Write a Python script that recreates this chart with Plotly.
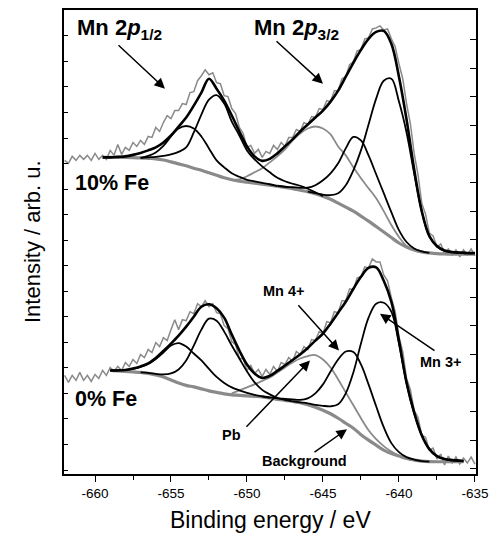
import plotly.graph_objects as go

# ---------------- data (binding energy in eV, intensity in arb. units) ----------------
E_RAW = [-662.0, -661.75, -661.5, -661.25, -661.0, -660.75, -660.5, -660.25, -660.0, -659.75,
         -659.5, -659.25, -659.0, -658.75, -658.5, -658.25, -658.0, -657.75, -657.5, -657.25,
         -657.0, -656.75, -656.5, -656.25, -656.0, -655.75, -655.5, -655.25, -655.0, -654.75,
         -654.5, -654.25, -654.0, -653.75, -653.5, -653.25, -653.0, -652.75, -652.5, -652.25,
         -652.0, -651.75, -651.5, -651.25, -651.0, -650.75, -650.5, -650.25, -650.0, -649.75,
         -649.5, -649.25, -649.0, -648.75, -648.5, -648.25, -648.0, -647.75, -647.5, -647.25,
         -647.0, -646.75, -646.5, -646.25, -646.0, -645.75, -645.5, -645.25, -645.0, -644.75,
         -644.5, -644.25, -644.0, -643.75, -643.5, -643.25, -643.0, -642.75, -642.5, -642.25,
         -642.0, -641.75, -641.5, -641.25, -641.0, -640.75, -640.5, -640.25, -640.0, -639.75,
         -639.5, -639.25, -639.0, -638.75, -638.5, -638.25, -638.0, -637.75, -637.5, -637.25,
         -637.0, -636.75, -636.5, -636.25, -636.0, -635.75, -635.5, -635.25, -635.0]

RAW_TOP = [315, 312, 319, 315, 320, 316, 320, 315, 322, 316,
           320, 316, 325, 320, 331, 321, 328, 325, 333, 329,
           335, 331, 339, 338, 348, 344, 353, 360, 357, 365,
           365, 372, 371, 383, 384, 395, 400, 406, 401, 403,
           393, 392, 380, 379, 367, 362, 348, 342, 328, 330,
           322, 326, 318, 324, 322, 330, 326, 333, 329, 338,
           338, 346, 344, 353, 351, 359, 358, 367, 366, 375,
           374, 385, 385, 397, 399, 411, 414, 425, 426, 437,
           438, 447, 448, 450, 446, 447, 437, 429, 412, 397,
           372, 352, 322, 301, 272, 261, 242, 239, 228, 231,
           222, 226, 220, 225, 218, 225, 220, 226, 219]

RAW_BOT = [99, 92, 99, 94, 102, 94, 99, 93, 100, 96,
           104, 99, 107, 103, 108, 104, 112, 108, 115, 111,
           120, 117, 125, 122, 132, 128, 137, 134, 145, 155,
           145, 155, 154, 163, 161, 171, 168, 174, 168, 171,
           162, 161, 149, 146, 133, 130, 116, 116, 104, 109,
           101, 105, 98, 105, 100, 108, 103, 112, 110, 117,
           113, 123, 120, 128, 125, 135, 134, 143, 141, 153,
           152, 163, 162, 174, 174, 186, 185, 197, 198, 208,
           207, 216, 213, 213, 200, 194, 177, 163, 138, 123,
           96, 85, 64, 57, 39, 37, 24, 26, 15, 20,
           9, 18, 11, 17, 10, 16, 11, 17, 10]

E_FIT_TOP = [-659.5, -659.0, -658.5, -658.0, -657.5, -657.0, -656.5, -656.0, -655.5, -655.0,
             -654.5, -654.0, -653.5, -653.0, -652.5, -652.0, -651.5, -651.0, -650.5, -650.0,
             -649.5, -649.0, -648.5, -648.0, -647.5, -647.0, -646.5, -646.0, -645.5, -645.0,
             -644.5, -644.0, -643.5, -643.0, -642.5, -642.0, -641.5, -641.0, -640.5, -640.0,
             -639.5, -639.0, -638.5, -638.0, -637.5, -637.0, -636.5, -636.0, -635.5, -635.0]

BG_TOP = [318, 318, 318, 318, 317.8, 317.5, 317, 316.5, 315.3, 313.5,
          311.5, 309.5, 307, 305, 302.5, 300, 297.5, 295.5, 294, 293,
          292, 291, 290, 289, 287.8, 286.5, 285, 283.5, 281.5, 279,
          276, 272, 268, 264, 259, 254, 248.5, 243, 237.5, 232,
          228, 225, 223, 222, 221.3, 221, 220.8, 220.7, 220.7, 220.7]

ENV_TOP = [318, 318, 318.5, 319, 320.5, 322.5, 325, 328, 333, 340,
           349, 358, 370, 383, 397, 387, 375, 360, 344, 329,
           319, 314.5, 316.5, 322, 329, 336, 344, 351, 358, 365,
           374, 385, 399, 413, 426, 437, 444, 445, 432, 399,
           356, 306, 264, 239, 229, 224.5, 223, 222.5, 222, 222]

# fitted components (drawn on top of the background), each starts at the given energy
P12A_TOP_START = -657.0
P12A_TOP = [317.5, 319.5, 323, 329.5, 339, 347, 349.5, 347, 339, 327,
            315, 308, 302, 298.5, 295.5, 294, 292.5, 291, 289]
P12B_TOP_START = -657.0
P12B_TOP = [317.5, 318, 318.5, 319.5, 321, 323.5, 328, 343, 361, 376,
            380.5, 372, 354, 340, 325, 316, 309, 303, 297.5, 294,
            291.5, 289.5, 286.5, 283, 279]
PB_TOP_START = -651.0
PB_TOP = [295.5, 296, 299, 303, 307, 313, 319, 326, 335, 342,
          347, 349, 347, 341, 329, 320, 308, 297, 287, 277,
          264, 250, 238, 229, 225]
MN4_TOP_START = -648.0
MN4_TOP = [289.5, 288.5, 288, 287.5, 287.5, 290, 295, 302, 312, 327,
           338.5, 335, 320, 301, 282, 263, 245, 233, 226.5, 223.5, 222]
MN3_TOP_START = -646.0
MN3_TOP = [283.5, 282, 280.5, 280, 282, 290, 305, 325, 351, 377,
           395, 397, 374, 343, 302, 264, 238.5, 228.5, 224, 222.5,
           222, 221.5, 221.5]

E_FIT_BOT = [-659.0, -658.5, -658.0, -657.5, -657.0, -656.5, -656.0, -655.5, -655.0, -654.5,
             -654.0, -653.5, -653.0, -652.5, -652.0, -651.5, -651.0, -650.5, -650.0, -649.5,
             -649.0, -648.5, -648.0, -647.5, -647.0, -646.5, -646.0, -645.5, -645.0, -644.5,
             -644.0, -643.5, -643.0, -642.5, -642.0, -641.5, -641.0, -640.5, -640.0, -639.5,
             -639.0, -638.5, -638.0, -637.5, -637.0, -636.5, -636.0, -635.75]

BG_BOT = [104, 103.5, 103, 102.5, 102, 101, 99.5, 97.5, 94.5, 91.5,
          89, 87.5, 85.5, 83.5, 82, 80.5, 79.5, 79, 78.5, 78,
          77.5, 76.5, 75, 74, 73, 71.5, 69.5, 67, 64, 60.5,
          56, 51, 46, 39.5, 34, 29, 24, 20.5, 18, 15.5,
          14, 13, 12.5, 12.3, 12.3, 12.3, 12.3, 12.3]

ENV_BOT = [104, 104, 104.5, 106, 108, 111, 116.5, 123.5, 131, 139,
           148, 158, 168, 170.5, 166.5, 157, 140, 124, 110, 101,
           96.5, 98.5, 103.5, 109, 114.5, 120, 126.5, 134, 141, 151,
           162, 173, 186, 198, 207, 207.5, 194, 173, 134, 92,
           62, 39, 25, 18, 15, 14, 13.5, 13]

P12A_BOT_START = -659.0
P12A_BOT = [104, 104, 104.5, 105.5, 107.5, 110.5, 115.5, 122, 129, 131.5,
            128, 121, 114, 105.5, 97.5, 91.5, 87, 84, 81.5, 79.5, 78, 76.5]
P12B_BOT_START = -657.0
P12B_BOT = [102, 101.5, 100.5, 100, 101, 105, 114, 129, 145, 156,
            154, 143, 129, 116, 103, 92, 84.5, 80, 76.5, 74.5, 73]
PB_BOT_START = -651.0
PB_BOT = [81, 84, 87, 90, 93.5, 97, 102, 107, 112, 116,
          118.5, 119.5, 115, 107, 95, 82, 69, 56, 44, 35,
          28, 22.5, 18.5, 15.5, 14]
MN4_BOT_START = -649.0
MN4_BOT = [78, 77, 76, 75.5, 75, 74.5, 76, 81, 90, 103,
           115, 123, 122.5, 110, 90, 68, 47, 31, 22, 17,
           14.5, 13, 12.5]
MN3_BOT_START = -647.0
MN3_BOT = [73, 72, 71, 69.5, 68.5, 68, 70, 81, 102, 131,
           157, 171, 172, 163, 131, 91, 61, 39, 25, 18,
           15, 13.5, 13, 12.8]

X_TICK_VALS = [-660, -655, -650, -645, -640, -635]
X_TICK_TEXT = ["-660", "-655", "-650", "-645", "-640", "-635"]
X_MINOR_VALS = [-657.5, -652.5, -647.5, -642.5, -637.5]

# ---------------- helpers ----------------
def seg(grid, start, values):
    i = grid.index(start)
    xs = grid[i:i + len(values)]
    assert len(xs) == len(values), (start, len(xs), len(values))
    return xs

assert len(E_RAW) == len(RAW_TOP) == len(RAW_BOT)
assert len(E_FIT_TOP) == len(BG_TOP) == len(ENV_TOP)
assert len(E_FIT_BOT) == len(BG_BOT) == len(ENV_BOT)

GRAY = "#8a8a8a"
FONT = "Liberation Sans, Arial, sans-serif"

fig = go.Figure()

def add(x, y, color, width, shape="spline"):
    fig.add_trace(go.Scatter(x=x, y=y, mode="lines", line=dict(color=color, width=width, shape=shape),
                             hoverinfo="skip", showlegend=False))

# raw spectra
add(E_RAW, RAW_TOP, GRAY, 1.5, "linear")
add(E_RAW, RAW_BOT, GRAY, 1.5, "linear")

for grid, bg, env, comps, pb in [
    (E_FIT_TOP, BG_TOP, ENV_TOP,
     [(P12A_TOP_START, P12A_TOP), (P12B_TOP_START, P12B_TOP), (MN4_TOP_START, MN4_TOP), (MN3_TOP_START, MN3_TOP)],
     (PB_TOP_START, PB_TOP)),
    (E_FIT_BOT, BG_BOT, ENV_BOT,
     [(P12A_BOT_START, P12A_BOT), (P12B_BOT_START, P12B_BOT), (MN4_BOT_START, MN4_BOT), (MN3_BOT_START, MN3_BOT)],
     (PB_BOT_START, PB_BOT)),
]:
    add(grid, bg, GRAY, 3.2)
    add(seg(grid, pb[0], pb[1]), pb[1], GRAY, 1.8)
    for start, vals in comps:
        add(seg(grid, start, vals), vals, "black", 1.8)
    add(grid, env, "black", 2.6)

# invisible trace so that the right-hand axis is drawn
fig.add_trace(go.Scatter(x=[-640], y=[100], mode="markers", marker=dict(opacity=0),
                         yaxis="y2", hoverinfo="skip", showlegend=False))

# ---------------- layout ----------------
# the page body adds an 8 px offset; plot area on screen: x 64..476, y 8..474
X0, X1 = -662.04, -634.93
Y0, Y1 = 0, 466
PW, PH = 412.0, 466.0

def dx(px):
    return X0 + (px - 64) * (X1 - X0) / PW

def dy(py):
    return Y1 - (py - 8) * (Y1 - Y0) / PH

annotations = []

def label(text, px, py, size, anchor="center"):
    annotations.append(dict(x=dx(px), y=dy(py), xref="x", yref="y", text=text, showarrow=False,
                            xanchor=anchor, yanchor="middle",
                            font=dict(family=FONT, size=size, color="black")))

def arrow(tx, ty, hx, hy):
    annotations.append(dict(x=dx(hx), y=dy(hy), ax=dx(tx), ay=dy(ty), xref="x", yref="y",
                            axref="x", ayref="y", text="", showarrow=True, arrowhead=2,
                            arrowsize=1.4, arrowwidth=1.5, arrowcolor="black", standoff=0,
                            startstandoff=0))

label("<b>Mn 2<i>p</i><sub>1/2</sub></b>", 75, 27, 22, "left")
label("<b>Mn 2<i>p</i><sub>3/2</sub></b>", 252, 27, 22, "left")
label("<b>10% Fe</b>", 73, 182, 21.5, "left")
label("<b>0% Fe</b>", 73, 399, 21.5, "left")
label("<b>Mn 4+</b>", 284, 290, 14.5)
label("<b>Mn 3+</b>", 441, 362, 14.5)
label("<b>Pb</b>", 231, 435, 14.5)
label("<b>Background</b>", 304, 461, 14.5)

arrow(117, 42, 165, 87)
arrow(275, 38, 323, 82)
arrow(297, 303, 339, 350)
arrow(436, 351, 380, 313)
arrow(245, 428, 310, 360)
arrow(313, 453, 347, 429)

annotations.append(dict(x=(270 - 64) / PW, y=(474 - 520) / PH, xref="paper", yref="paper",
                        text="Binding energy / eV", showarrow=False, xanchor="center", yanchor="middle",
                        font=dict(family=FONT, size=23, color="black")))
annotations.append(dict(x=(32 - 64) / PW, y=(474 - 241) / PH, xref="paper", yref="paper",
                        text="Intensity / arb. u.", showarrow=False, textangle=-90,
                        xanchor="center", yanchor="middle",
                        font=dict(family=FONT, size=22, color="black")))

left_ticks = [4 + 25.65 * k for k in range(18)]
right_ticks = [5.3 + 28.73 * k for k in range(16)]

fig.update_layout(
    width=492, height=526, autosize=False,
    margin=dict(l=56, r=24, t=0, b=60, pad=0),
    paper_bgcolor="white", plot_bgcolor="white",
    annotations=annotations,
    xaxis=dict(range=[X0, X1], showgrid=False, zeroline=False,
               showline=True, linecolor="black", linewidth=1.5, mirror=True,
               ticks="outside", ticklen=6, tickwidth=1.2, tickcolor="black",
               tickmode="array", tickvals=X_TICK_VALS, ticktext=X_TICK_TEXT,
               tickfont=dict(family=FONT, size=13.5, color="black"),
               minor=dict(ticks="outside", ticklen=4, tickwidth=1.2, tickcolor="black",
                          tickmode="array", tickvals=X_MINOR_VALS)),
    yaxis=dict(range=[Y0, Y1], showgrid=False, zeroline=False,
               showline=True, linecolor="black", linewidth=1.5,
               ticks="inside", ticklen=4, tickwidth=1.2, tickcolor="black",
               tickmode="array", tickvals=left_ticks, showticklabels=False),
    yaxis2=dict(range=[Y0, Y1], overlaying="y", side="right", showgrid=False, zeroline=False,
                showline=True, linecolor="black", linewidth=1.5,
                ticks="inside", ticklen=6, tickwidth=1.2, tickcolor="black",
                tickmode="array", tickvals=right_ticks, showticklabels=False),
)

fig.write_html("out.html")
